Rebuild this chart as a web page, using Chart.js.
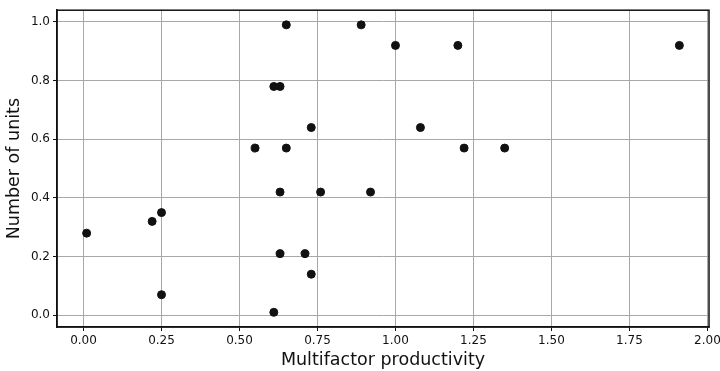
<!DOCTYPE html>
<html>
<head>
<meta charset="utf-8">
<script src="https://cdn.jsdelivr.net/npm/chart.js@4/dist/chart.umd.min.js"></script>
<style>
  html, body { margin: 0; padding: 0; background: #fff; }
  #wrap { width: 720px; height: 371px; }
</style>
</head>
<body>
<div id="wrap"><canvas id="chart" width="720" height="371"></canvas></div>
<script>
var productivity = [0.01, 0.22, 0.25, 0.25, 0.55, 0.61, 0.63, 0.65, 0.63, 0.63, 0.61, 0.65,
  0.71, 0.73, 0.73, 0.76, 0.89, 0.92, 1.00, 1.08, 1.20, 1.22, 1.35, 1.91];
var units = [0.28, 0.32, 0.35, 0.07, 0.57, 0.78, 0.78, 0.99, 0.42, 0.21, 0.01, 0.57,
  0.21, 0.64, 0.14, 0.42, 0.99, 0.42, 0.92, 0.64, 0.92, 0.57, 0.57, 0.92];
var xTicks = [0, 0.25, 0.5, 0.75, 1.0, 1.25, 1.5, 1.75, 2.0];
var yTicks = [0, 0.2, 0.4, 0.6, 0.8, 1.0];

var points = productivity.map(function (x, i) {
  return { x: x, y: units[i] };
});

// matplotlib-style box round the plot
var frame = {
  id: "frame",
  afterDraw: function (chart) {
    var a = chart.chartArea;
    var ctx = chart.ctx;
    ctx.save();
    ctx.strokeStyle = "#111";
    ctx.lineWidth = 1.5;
    ctx.strokeRect(a.left, a.top, a.right - a.left, a.bottom - a.top);
    ctx.restore();
  }
};

var tickFont = { family: "DejaVu Sans", size: 12 };
var titleFont = { family: "DejaVu Sans", size: 17.5 };

new Chart(document.getElementById("chart"), {
  type: "scatter",
  data: {
    datasets: [{
      data: points,
      backgroundColor: "#111",
      borderColor: "#111",
      pointRadius: 4,
      pointHoverRadius: 4
    }]
  },
  options: {
    responsive: false,
    animation: false,
    layout: { padding: { top: 8, right: 11, left: 0, bottom: 0 } },
    plugins: { legend: { display: false }, tooltip: { enabled: false } },
    scales: {
      x: {
        min: -0.085,
        max: 2.005,
        afterBuildTicks: function (s) {
          s.ticks = xTicks.map(function (v) { return { value: v }; });
        },
        afterFit: function (s) {
          s.height = 44;
          s.paddingRight = 0; // let the last label hang past the plot like matplotlib
        },
        ticks: {
          color: "#111",
          font: tickFont,
          padding: 3,
          maxRotation: 0,
          autoSkip: false,
          callback: function (v) { return Number(v).toFixed(2); }
        },
        grid: { color: "#a8a8a8", tickColor: "#111", tickLength: 4, lineWidth: 1 },
        border: { color: "#111", width: 1.5 },
        title: {
          display: true,
          text: "Multifactor productivity",
          color: "#111",
          font: titleFont,
          padding: { top: 0, bottom: 0 }
        }
      },
      y: {
        min: -0.04,
        max: 1.04,
        afterBuildTicks: function (s) {
          s.ticks = yTicks.map(function (v) { return { value: v }; });
        },
        afterFit: function (s) { s.width = 57; },
        ticks: {
          color: "#111",
          font: tickFont,
          padding: 3,
          autoSkip: false,
          callback: function (v) { return Number(v).toFixed(1); }
        },
        grid: { color: "#a8a8a8", tickColor: "#111", tickLength: 4, lineWidth: 1 },
        border: { color: "#111", width: 1.5 },
        title: {
          display: true,
          text: "Number of units",
          color: "#111",
          font: titleFont,
          padding: { top: 4, bottom: 4 }
        }
      }
    }
  },
  plugins: [frame]
});
</script>
</body>
</html>
